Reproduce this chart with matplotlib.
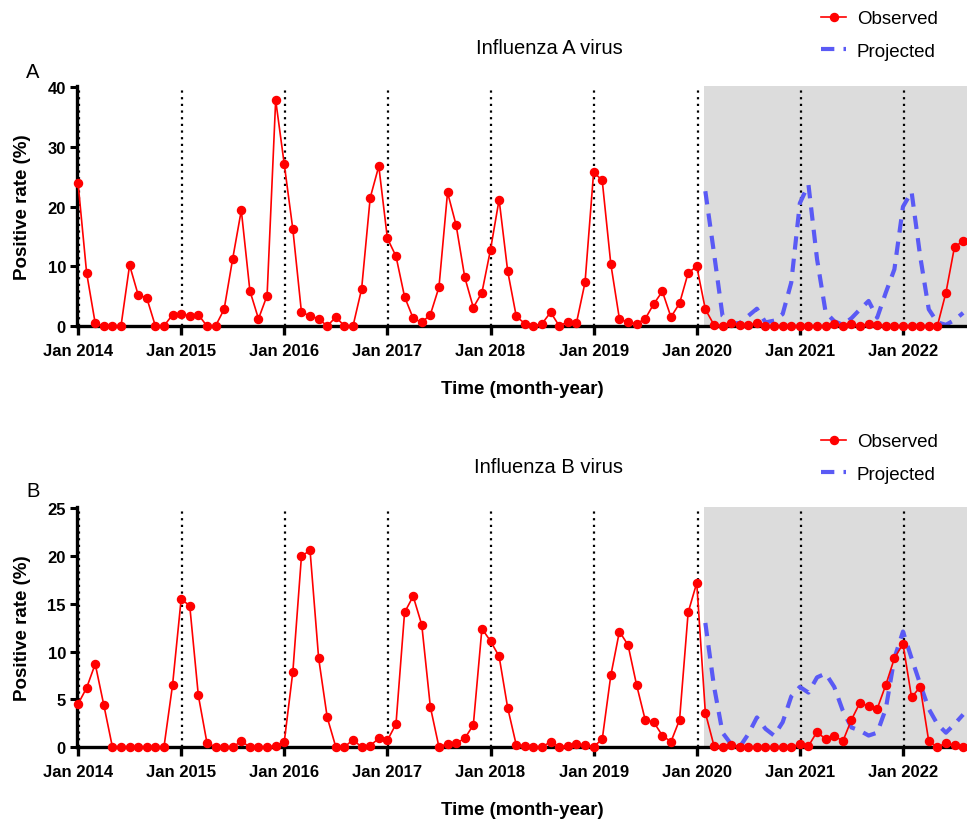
import numpy as np
import matplotlib.pyplot as plt

plt.rcParams['font.family'] = ['Liberation Sans', 'DejaVu Sans']

# monthly positive rates, Jan 2014 - Aug 2022
tick_labels = ['Jan 2014', 'Jan 2015', 'Jan 2016', 'Jan 2017', 'Jan 2018',
               'Jan 2019', 'Jan 2020', 'Jan 2021', 'Jan 2022']

obs_a = [24.0, 8.9, 0.45, 0, 0, 0, 10.2, 5.2, 4.7, 0, 0, 1.9,
         2.0, 1.7, 1.9, 0, 0, 2.8, 11.3, 19.4, 5.9, 1.2, 5.1, 37.9,
         27.1, 16.2, 2.3, 1.7, 1.2, 0, 1.5, 0, 0, 6.2, 21.5, 26.8,
         14.7, 11.7, 4.9, 1.3, 0.6, 1.9, 6.5, 22.4, 16.9, 8.2, 3.1, 5.6,
         12.8, 21.2, 9.2, 1.6, 0.4, 0, 0.4, 2.3, 0, 0.7, 0.5, 7.3,
         25.8, 24.4, 10.4, 1.2, 0.6, 0.4, 1.2, 3.7, 5.8, 1.5, 3.8, 8.9,
         10.0, 2.8, 0.2, 0, 0.5, 0.1, 0.1, 0.5, 0, 0, 0, 0,
         0, 0, 0, 0, 0.4, 0, 0.3, 0, 0.4, 0.2, 0, 0,
         0, 0, 0, 0, 0, 5.6, 13.3, 14.2]

# projection, Feb 2020 - Aug 2022
proj_a = [22.6, 12.3, 1.7, 0.4, 0.5, 1.7, 2.9, 0.6, 0.9, 2.0, 7.3,
          20.6, 23.7, 11.2, 2.3, 0.8, 0.2, 1.3, 2.8, 4.2, 1.4, 5.6, 9.5,
          20.0, 22.5, 11.7, 2.8, 0.6, 0.2, 1.0, 2.2]

obs_b = [4.5, 6.2, 8.7, 4.4, 0, 0, 0, 0, 0, 0, 0, 6.5,
         15.5, 14.8, 5.4, 0.45, 0, 0, 0, 0.6, 0, 0, 0, 0.1,
         0.55, 7.9, 20.0, 20.6, 9.3, 3.1, 0, 0, 0.76, 0, 0.15, 0.9,
         0.7, 2.4, 14.1, 15.8, 12.8, 4.2, 0, 0.35, 0.4, 0.9, 2.3, 12.4,
         11.1, 9.5, 4.1, 0.2, 0.15, 0, 0, 0.55, 0, 0.15, 0.3, 0.2,
         0.05, 0.8, 7.5, 12.1, 10.7, 6.5, 2.85, 2.6, 1.2, 0.55, 2.85, 14.1,
         17.2, 3.6, 0.15, 0, 0.25, 0.05, 0, 0, 0, 0, 0, 0,
         0.3, 0.1, 1.6, 0.8, 1.2, 0.6, 2.85, 4.65, 4.25, 4.0, 6.5, 9.3,
         10.8, 5.2, 6.3, 0.6, 0, 0.4, 0.2, 0]

proj_b = [13.0, 6.4, 1.5, 0.3, 0, 1.35, 3.1, 1.9, 1.2, 2.6, 5.3,
          6.3, 5.7, 7.3, 7.7, 6.3, 3.8, 2.05, 1.7, 1.2, 1.5, 4.0, 9.3,
          12.1, 9.3, 6.6, 4.0, 2.4, 1.5, 2.4, 3.4]

PROJ_START = 73  # Feb 2020


def draw_panel(fig, rect, obs, proj, ymax, ystep, title, letter, title_y, leg_y, letter_y):
    ax = fig.add_axes(rect)
    x_obs = np.arange(len(obs))
    x_proj = np.arange(PROJ_START, PROJ_START + len(proj))
    xmin, xmax = -0.12, 103.45

    ax.axvspan(PROJ_START - 0.1, xmax + 1, color='#dcdcdc', zorder=0, lw=0)
    for i in range(len(tick_labels)):
        ax.axvline(i * 12 + 0.1, color='black', ls=(0, (1, 2.0)), lw=1.6, zorder=1)

    ax.plot(x_proj, proj, color='#5a5af5', lw=3.0, ls=(0, (3.2, 2.2)),
            label='Projected', zorder=2)
    ax.plot(x_obs, obs, color='#ff0000', lw=1.2, marker='o', ms=5.8,
            label='Observed', zorder=3, clip_on=False)

    ax.set_xlim(xmin, xmax)
    ax.set_ylim(0, ymax * 1.006)
    ax.set_yticks(np.arange(0, ymax + 1, ystep))
    ax.set_xticks(np.arange(len(tick_labels)) * 12)
    ax.set_xticklabels(tick_labels)
    for s in ['top', 'right']:
        ax.spines[s].set_visible(False)
    for s in ['left', 'bottom']:
        ax.spines[s].set_linewidth(2.4)
    ax.tick_params(axis='y', width=2.2, length=5, labelsize=12, pad=3)
    ax.tick_params(axis='x', width=2.4, length=6.5, labelsize=12, pad=5.5)
    for lab in ax.get_xticklabels() + ax.get_yticklabels():
        lab.set_fontweight('bold')
    ax.set_ylabel('Positive rate (%)', fontsize=13.5, fontweight='bold', labelpad=12)
    ax.set_xlabel('Time (month-year)', fontsize=13.5, fontweight='bold', labelpad=16)

    fig.text(549 / 967, 1 - title_y / 820, title, fontsize=14.5, ha='center', va='center')
    fig.text(33 / 967, 1 - letter_y / 820, letter, fontsize=14.5, ha='center', va='center')

    h, l = ax.get_legend_handles_labels()
    ax.legend(h[::-1], l[::-1], loc='upper left', frameon=False, fontsize=13.5,
              bbox_to_anchor=(812 / 967, 1 - leg_y / 820), bbox_transform=fig.transFigure,
              borderpad=0, handlelength=1.3, handletextpad=0.6, labelspacing=0.8)
    return ax


fig = plt.figure(figsize=(9.67, 8.2), dpi=100)
draw_panel(fig, [77 / 967, 1 - 327 / 820, 890 / 967, 240 / 820], obs_a, proj_a,
           40, 10, 'Influenza A virus', 'A', 49, 2, 72)
draw_panel(fig, [77 / 967, 1 - 748 / 820, 890 / 967, 240 / 820], obs_b, proj_b,
           25, 5, 'Influenza B virus', 'B', 468, 425, 492)

fig.savefig('out.png', dpi=100)
